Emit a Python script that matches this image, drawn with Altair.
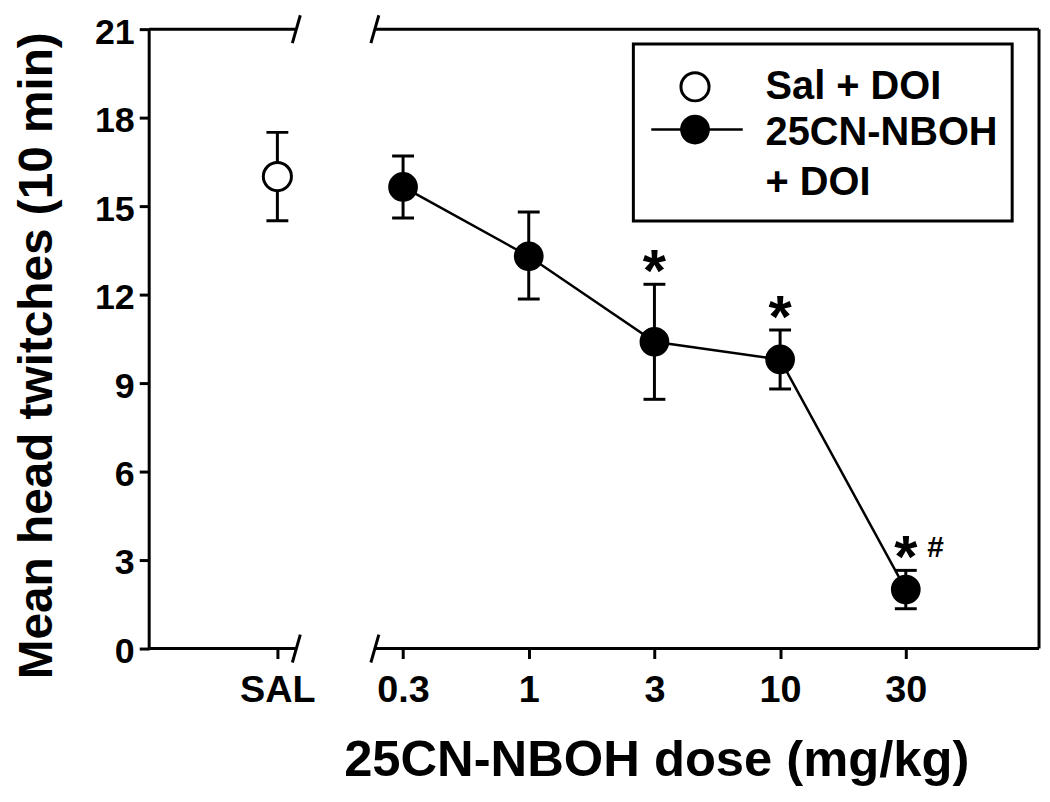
import json
import altair as alt
import pandas as pd

# ---------------- data ----------------
doses = ["SAL", "0.3", "1", "3", "10", "30"]
groups = ["Sal + DOI", "25CN-NBOH + DOI", "25CN-NBOH + DOI", "25CN-NBOH + DOI",
          "25CN-NBOH + DOI", "25CN-NBOH + DOI"]
means = [16.0, 15.65, 13.3, 10.4, 9.8, 2.0]
err_low = [14.5, 14.6, 11.85, 8.45, 8.8, 1.35]
err_high = [17.5, 16.7, 14.8, 12.35, 10.8, 2.65]
stars = ["", "", "", "*", "*", "*"]
hashes = ["", "", "", "", "", "#"]
y_ticks = [0, 3, 6, 9, 12, 15, 18, 21]
legend_labels = ["Sal + DOI", "25CN-NBOH", "+ DOI"]

df = pd.DataFrame({
    "pos": list(range(len(doses))),
    "dose": doses,
    "group": groups,
    "mean": means,
    "lo": err_low,
    "hi": err_high,
    "star": stars,
    "hash": hashes,
})

FONT = "Liberation Sans"
TOP = 19            # top padding
W, H = 895, 623
GAP_L, GAP_R = 148, 227

xscale = alt.Scale(domain=[-1.02, 6.06], nice=False, zero=False)
yscale = alt.Scale(domain=[0, 21], nice=False, zero=False)

x_axis = alt.Axis(
    values=list(range(len(doses))),
    labelExpr=json.dumps(doses) + "[datum.value]",
    title="25CN-NBOH dose (mg/kg)",
    titleFont=FONT, titleFontSize=51, titleFontWeight="bold", titleColor="black",
    titleX=510, titleY=128, titleBaseline="alphabetic", titleAlign="center",
    domain=False, grid=False, ticks=True, tickSize=10, tickWidth=3, tickColor="black",
    labelFont=FONT, labelFontSize=38, labelFontWeight="bold", labelColor="black",
    labelPadding=13, labelFlush=False, labelOverlap=False,
)
y_axis = alt.Axis(
    values=y_ticks,
    title="Mean head twitches (10 min)",
    titleFont=FONT, titleFontSize=48, titleFontWeight="bold", titleColor="black",
    titleX=-112, titleY=328, titleBaseline="middle", titleAlign="center", titleAngle=270,
    domain=False, grid=False, ticks=True, tickSize=10, tickWidth=3, tickColor="black",
    labelFont=FONT, labelFontSize=36, labelFontWeight="bold", labelColor="black",
    labelBaseline="alphabetic", labelPadding=5, labelOffset=14,
    labelFlush=False, labelOverlap=False,
)

base = alt.Chart(df)
X = alt.X("pos:Q", scale=xscale, axis=x_axis)


def Y(field):
    return alt.Y(field, type="quantitative", scale=yscale, axis=y_axis)


# error bars
err_rule = base.mark_rule(color="black", strokeWidth=3, opacity=1).encode(
    x=X, y=Y("lo"), y2="hi:Q")
cap_lo = base.mark_tick(color="black", orient="horizontal", size=22, thickness=3,
                        opacity=1).encode(x=X, y=Y("lo"))
cap_hi = base.mark_tick(color="black", orient="horizontal", size=22, thickness=3,
                        opacity=1).encode(x=X, y=Y("hi"))

# connecting line (25CN-NBOH only)
line = base.transform_filter(alt.datum.group != "Sal + DOI").mark_line(
    color="black", strokeWidth=2.5).encode(x=X, y=Y("mean"))

# points
pts_open = base.transform_filter(alt.datum.group == "Sal + DOI").mark_point(
    shape="circle", filled=True, fill="white", stroke="black", strokeWidth=3,
    size=800, opacity=1).encode(x=X, y=Y("mean"))
pts_fill = base.transform_filter(alt.datum.group != "Sal + DOI").mark_point(
    shape="circle", filled=True, fill="black", stroke="black", strokeWidth=2,
    size=780, opacity=1).encode(x=X, y=Y("mean"))

# significance marks
star_txt = base.transform_filter(alt.datum.star != "").mark_text(
    font=FONT, fontSize=60, fontWeight="bold", color="black", dy=7,
    baseline="alphabetic", align="center").encode(
    x=X, y=Y("hi"), text="star:N")
hash_txt = base.transform_filter(alt.datum.hash != "").mark_text(
    font=FONT, fontSize=30, fontWeight="bold", color="black", dx=30, dy=-13,
    baseline="alphabetic", align="center").encode(
    x=X, y=Y("hi"), text="hash:N")

# frame with axis breaks
one = alt.Chart(pd.DataFrame({"k": [0]}))
segs = [
    (0, 0, 0, H), (W, W, 0, H),
    (0, GAP_L, 0, 0), (GAP_R, W, 0, 0),
    (0, GAP_L, H, H), (GAP_R, W, H, H),
]
frame_layers = []
for (x1, x2, y1, y2) in segs:
    frame_layers.append(one.mark_rule(color="black", strokeWidth=3).encode(
        x=alt.value(x1), x2=alt.value(x2), y=alt.value(y1), y2=alt.value(y2)))
for gx in (GAP_L, GAP_R):
    for gy in (0, H):
        frame_layers.append(one.mark_rule(color="black", strokeWidth=3).encode(
            x=alt.value(gx - 4), x2=alt.value(gx + 4),
            y=alt.value(gy + 14), y2=alt.value(gy - 14)))

# legend (drawn)
LX0, LX1, LY0, LY1 = 487, 868, 15, 193
leg_box = one.mark_rect(fill="white", stroke="black", strokeWidth=3).encode(
    x=alt.value(LX0), x2=alt.value(LX1), y=alt.value(LY0), y2=alt.value(LY1))
leg_line = one.mark_rule(color="black", strokeWidth=2.5).encode(
    x=alt.value(505), x2=alt.value(597), y=alt.value(101), y2=alt.value(101))
leg_open = one.mark_point(shape="circle", filled=True, fill="white", stroke="black",
                          strokeWidth=3, size=800, opacity=1).encode(
    x=alt.value(549), y=alt.value(58))
leg_fill = one.mark_point(shape="circle", filled=True, fill="black", stroke="black",
                          strokeWidth=2, size=780, opacity=1).encode(
    x=alt.value(549), y=alt.value(101))
leg_df = pd.DataFrame({"label": legend_labels, "ly": [58, 105, 155]})
leg_text = alt.Chart(leg_df).mark_text(
    font=FONT, fontSize=40, fontWeight="bold", color="black", align="left",
    baseline="middle").encode(
    x=alt.value(620), y=alt.Y("ly:Q", scale=None, axis=None), text="label:N")

chart = alt.layer(
    err_rule, cap_lo, cap_hi, line, pts_open, pts_fill,
    star_txt, hash_txt,
    *frame_layers,
    leg_box, leg_line, leg_open, leg_fill, leg_text,
).properties(
    width=W, height=H,
    autosize=alt.AutoSizeParams(type="none"),
    padding={"left": 142, "top": TOP, "right": 3, "bottom": 139},
    background="white",
).configure_view(stroke=None)

chart.save("out.html", embed_options={"renderer": "svg", "actions": False})
